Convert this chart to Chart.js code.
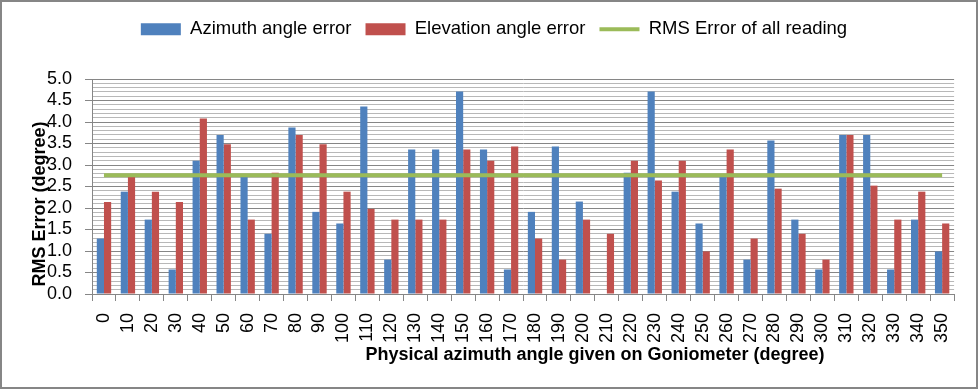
<!DOCTYPE html>
<html>
<head>
<meta charset="utf-8">
<script src="https://cdn.jsdelivr.net/npm/chart.js@4/dist/chart.umd.min.js"></script>
<style>
    body { margin: 0; background: #fff; }
    #wrap { width: 974px; height: 385px; border: 2px solid #868686; }
</style>
</head>
<body>
<div id="wrap"><canvas id="myChart" width="974" height="385"></canvas></div>
<script>
// goniometer angles (degree)
const angles = ["0", "10", "20", "30", "40", "50", "60", "70", "80", "90",
    "100", "110", "120", "130", "140", "150", "160", "170", "180", "190",
    "200", "210", "220", "230", "240", "250", "260", "270", "280", "290",
    "300", "310", "320", "330", "340", "350"];

const azimuthError = [1.29, 2.38, 1.73, 0.57, 3.10, 3.70, 2.74, 1.40, 3.87, 1.91,
    1.64, 4.36, 0.80, 3.36, 3.36, 4.71, 3.36, 0.57, 1.91, 3.43,
    2.15, 0, 2.82, 4.71, 2.38, 1.64, 2.74, 0.80, 3.57, 1.73,
    0.57, 3.70, 3.70, 0.57, 1.73, 0.99];

const elevationError = [2.14, 2.72, 2.38, 2.14, 4.08, 3.48, 1.73, 2.82, 3.70, 3.48,
    2.38, 1.98, 1.73, 1.73, 1.73, 3.36, 3.10, 3.43, 1.29, 0.80,
    1.73, 1.40, 3.10, 2.64, 3.10, 0.99, 3.36, 1.29, 2.45, 1.40,
    0.80, 3.70, 2.52, 1.73, 2.38, 1.64];

// overall RMS error, drawn from first to last angle
const rmsAll = 2.76;
const rmsLine = [{ x: "0", y: rmsAll }, { x: "350", y: rmsAll }];

const seriesNames = ["Azimuth angle error", "Elevation angle error", "RMS Error of all reading"];
const yTitle = "RMS Error (degree)";
const xTitle = "Physical azimuth angle given on Goniometer (degree)";

const FONT = "'Liberation Sans', Arial, sans-serif";
const isMajor = (v) => Math.abs(v * 2 - Math.round(v * 2)) < 1e-6;

// axis titles placed like the original sheet
const axisTitles = {
    id: "axisTitles",
    afterDraw(chart) {
        const ctx = chart.ctx;
        ctx.save();
        ctx.fillStyle = "#000";
        ctx.font = "bold 18px " + FONT;
        ctx.textAlign = "center";
        ctx.textBaseline = "middle";
        ctx.fillText(xTitle, 593, 353);
        ctx.translate(38, 202);
        ctx.rotate(-Math.PI / 2);
        ctx.fillText(yTitle, 0, 0);
        ctx.restore();
    }
};

const legendHeight = {
    id: "legendHeight",
    beforeInit(chart) {
        const fit = chart.legend.fit;
        chart.legend.fit = function () {
            fit.bind(chart.legend)();
            this.height = 73;
        };
    }
};

const data = {
    labels: angles,
    datasets: [
        {
            type: "bar",
            label: seriesNames[0],
            data: azimuthError,
            backgroundColor: "#4F81BD",
            categoryPercentage: 0.6,
            barPercentage: 1.0,
            order: 2
        },
        {
            type: "bar",
            label: seriesNames[1],
            data: elevationError,
            backgroundColor: "#C0504D",
            categoryPercentage: 0.6,
            barPercentage: 1.0,
            order: 2
        },
        {
            type: "line",
            label: seriesNames[2],
            data: rmsLine,
            borderColor: "#9BBB59",
            backgroundColor: "#9BBB59",
            borderWidth: 4,
            pointRadius: 0,
            order: 1
        }
    ]
};

const config = {
    type: "bar",
    data: data,
    options: {
        responsive: false,
        animation: false,
        devicePixelRatio: 1,
        layout: { padding: { left: 30, right: 20, top: 4, bottom: 0 } },
        plugins: {
            tooltip: { enabled: false },
            legend: {
                position: "top",
                labels: {
                    color: "#000",
                    font: { family: FONT, size: 18.5 },
                    usePointStyle: true,
                    pointStyleWidth: 40,
                    boxHeight: 12,
                    padding: 14,
                    sort: (a, b) => a.datasetIndex - b.datasetIndex,
                    generateLabels: (chart) => {
                        const items = Chart.defaults.plugins.legend.labels.generateLabels(chart);
                        items.forEach((it) => {
                            if (it.datasetIndex < 2) {
                                it.pointStyle = "rect";
                                it.lineWidth = 0;
                            } else {
                                it.pointStyle = "line";
                                it.lineWidth = 4;
                                it.strokeStyle = "#9BBB59";
                            }
                        });
                        return items;
                    }
                }
            }
        },
        scales: {
            x: {
                afterFit: (s) => { s.height = 93; },
                grid: {
                    offset: true,
                    drawOnChartArea: false,
                    color: "#868686",
                    tickLength: 7
                },
                border: { color: "#868686" },
                ticks: {
                    color: "#000",
                    font: { family: FONT, size: 18 },
                    minRotation: 90,
                    maxRotation: 90,
                    autoSkip: false,
                    padding: 12
                }
            },
            y: {
                min: 0,
                max: 5,
                afterFit: (s) => { s.width = 60; },
                grid: {
                    color: (c) => isMajor(c.tick.value) ? "#868686" : "#b8b8b8",
                    tickColor: (c) => isMajor(c.tick.value) ? "#868686" : "rgba(0,0,0,0)",
                    tickLength: 7
                },
                border: { color: "#868686" },
                ticks: {
                    stepSize: 0.1,
                    autoSkip: false,
                    color: "#000",
                    font: { family: FONT, size: 18 },
                    padding: 13,
                    callback: (v) => isMajor(v) ? v.toFixed(1) : ""
                }
            }
        }
    },
    plugins: [axisTitles, legendHeight]
};

const myChart = new Chart(document.getElementById("myChart"), config);
</script>
</body>
</html>
